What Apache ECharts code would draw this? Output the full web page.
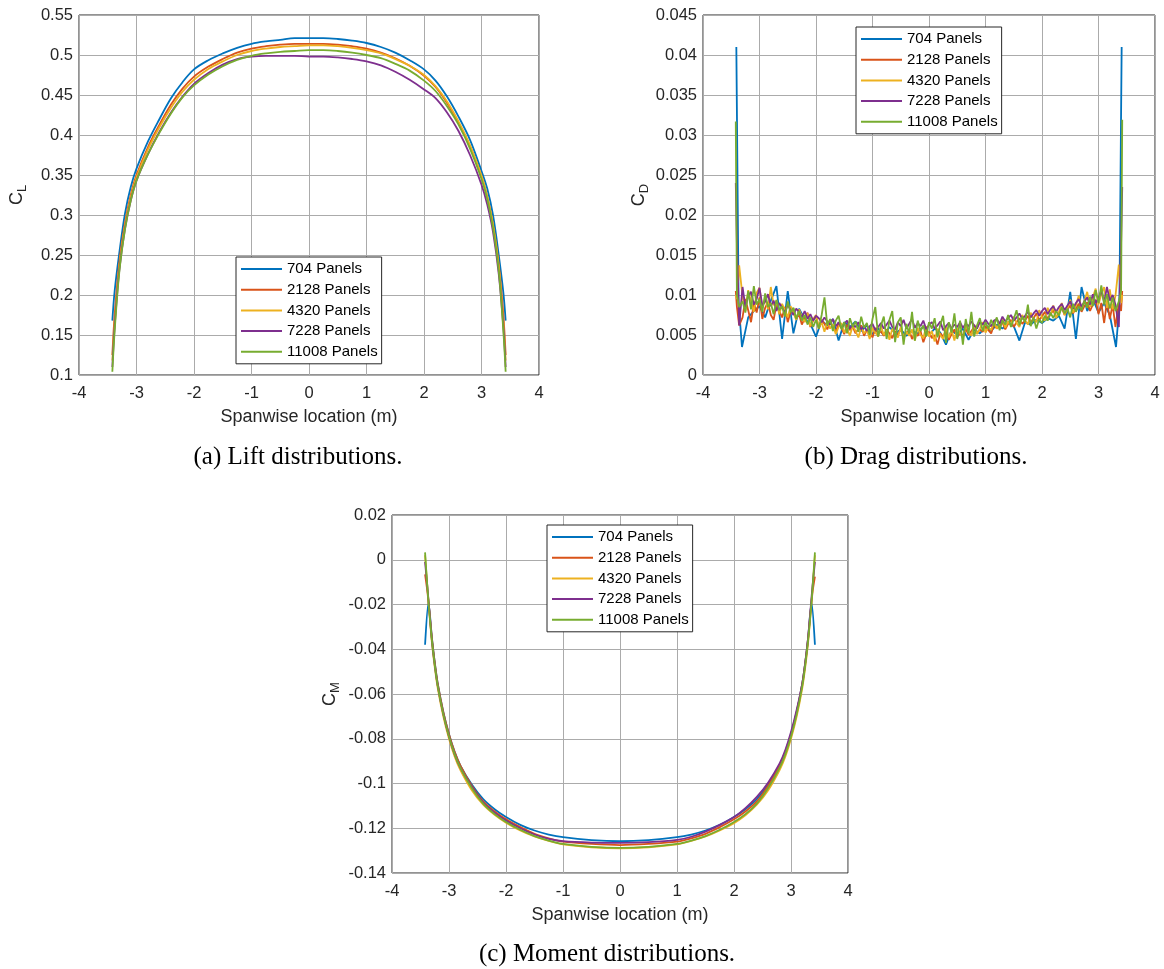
<!DOCTYPE html>
<html><head><meta charset="utf-8">
<script src="https://cdn.jsdelivr.net/npm/echarts@6/dist/echarts.min.js"></script>
<style>html,body{margin:0;padding:0;background:#fff}#c{width:1164px;height:969px}</style>
</head><body><div id="c"></div>
<script>
// ---------- series names / colours ----------
const seriesNames = ['704 Panels', '2128 Panels', '4320 Panels', '7228 Panels', '11008 Panels'];
const seriesColors = ['#0072BD', '#D95319', '#EDB120', '#7E2F8E', '#77AC30'];

// ---------- tick labels ----------
const xTicks = [-4, -3, -2, -1, 0, 1, 2, 3, 4];
const liftTicks = [0.1, 0.15, 0.2, 0.25, 0.3, 0.35, 0.4, 0.45, 0.5, 0.55];
const dragTicks = [0, 0.005, 0.01, 0.015, 0.02, 0.025, 0.03, 0.035, 0.04, 0.045];
const momentTicks = [-0.14, -0.12, -0.1, -0.08, -0.06, -0.04, -0.02, 0, 0.02];

// ---------- texts ----------
const xAxisTitle = 'Spanwise location (m)';
const yAxisSub = ['L', 'D', 'M'];
const captions = ['(a) Lift distributions.', '(b) Drag distributions.', '(c) Moment distributions.'];

// ---------- (a) lift ----------
const liftX = [-3.42, -3.38, -3.3, -3.2, -3.1, -3.0, -2.8, -2.6, -2.4, -2.2, -2.0, -1.75, -1.5, -1.25, -1.0, -0.75, -0.5, -0.25, 0,
  0.25, 0.5, 0.75, 1.0, 1.25, 1.5, 1.75, 2.0, 2.2, 2.4, 2.6, 2.8, 3.0, 3.1, 3.2, 3.3, 3.38, 3.42];
const lift704 = [0.168, 0.205, 0.252, 0.302, 0.335, 0.358, 0.392, 0.420, 0.446, 0.466, 0.482, 0.4935, 0.502, 0.509, 0.514, 0.517, 0.519, 0.521, 0.521,
  0.521, 0.520, 0.518, 0.515, 0.510, 0.503, 0.4935, 0.482, 0.468, 0.448, 0.423, 0.394, 0.355, 0.333, 0.300, 0.250, 0.203, 0.168];
const lift2128 = [0.125, 0.175, 0.240, 0.290, 0.325, 0.350, 0.385, 0.413, 0.438, 0.458, 0.473, 0.4855, 0.495, 0.503, 0.508, 0.511, 0.513, 0.514, 0.514,
  0.514, 0.513, 0.511, 0.508, 0.503, 0.496, 0.4865, 0.474, 0.460, 0.440, 0.415, 0.386, 0.348, 0.323, 0.288, 0.238, 0.175, 0.125];
const lift4320 = [0.118, 0.165, 0.235, 0.287, 0.322, 0.347, 0.382, 0.410, 0.434, 0.454, 0.469, 0.4825, 0.492, 0.500, 0.505, 0.508, 0.510, 0.511, 0.512,
  0.512, 0.511, 0.509, 0.506, 0.502, 0.495, 0.4865, 0.475, 0.461, 0.442, 0.417, 0.387, 0.349, 0.323, 0.288, 0.236, 0.166, 0.118];
const lift7228 = [0.110, 0.160, 0.230, 0.283, 0.318, 0.343, 0.376, 0.404, 0.428, 0.448, 0.464, 0.4775, 0.488, 0.495, 0.498, 0.499, 0.499, 0.499, 0.498,
  0.498, 0.497, 0.495, 0.492, 0.487, 0.479, 0.469, 0.457, 0.446, 0.428, 0.405, 0.375, 0.338, 0.313, 0.279, 0.226, 0.160, 0.110];
const lift11008 = [0.104, 0.155, 0.228, 0.282, 0.318, 0.343, 0.376, 0.403, 0.427, 0.447, 0.462, 0.4755, 0.486, 0.494, 0.499, 0.502, 0.504, 0.505, 0.506,
  0.506, 0.505, 0.503, 0.500, 0.496, 0.489, 0.4805, 0.468, 0.455, 0.436, 0.413, 0.383, 0.345, 0.320, 0.284, 0.230, 0.155, 0.104];

// ---------- (b) drag ----------
const dragX704 = [-3.41, -3.37, -3.31,
  -3.2, -3.1, -3.0, -2.9, -2.8, -2.7, -2.6, -2.5, -2.4, -2.3,
  -2.2, -2.1, -2.0, -1.9, -1.8, -1.7, -1.6, -1.5, -1.4, -1.3,
  -1.2, -1.1, -1.0, -0.9, -0.8, -0.7, -0.6, -0.5, -0.4, -0.3,
  -0.2, -0.1, 0, 0.1, 0.2, 0.3, 0.4, 0.5, 0.6, 0.7,
  0.8, 0.9, 1.0, 1.1, 1.2, 1.3, 1.4, 1.5, 1.6, 1.7,
  1.8, 1.9, 2.0, 2.1, 2.2, 2.3, 2.4, 2.5, 2.6, 2.7,
  2.8, 2.9, 3.0, 3.1, 3.2,
  3.31, 3.37, 3.41];
const drag704 = [0.0410, 0.0090, 0.0035,
  0.0072, 0.0080, 0.0086, 0.0072, 0.0093, 0.0111, 0.0045, 0.0105, 0.0052, 0.0083,
  0.0070, 0.0064, 0.0048, 0.0068, 0.0062, 0.0070, 0.0043, 0.0066, 0.0060, 0.0067,
  0.0055, 0.0062, 0.0051, 0.0058, 0.0050, 0.0060, 0.0052, 0.0057, 0.0049, 0.0055,
  0.0052, 0.0061, 0.0050, 0.0058, 0.0053, 0.0038, 0.0056, 0.0050, 0.0058, 0.0044,
  0.0057, 0.0052, 0.0060, 0.0055, 0.0063, 0.0058, 0.0065, 0.0061, 0.0043, 0.0066,
  0.0063, 0.0069, 0.0065, 0.0071, 0.0068, 0.0074, 0.0058, 0.0104, 0.0045, 0.0110,
  0.0080, 0.0095, 0.0078, 0.0090, 0.0075,
  0.0035, 0.0088, 0.0410];
const dragXFine = [-3.42, -3.40, -3.36,
  -3.3, -3.25, -3.2, -3.15, -3.1, -3.05, -3.0, -2.95, -2.9, -2.85,
  -2.8, -2.75, -2.7, -2.65, -2.6, -2.55, -2.5, -2.45, -2.4, -2.35,
  -2.3, -2.25, -2.2, -2.15, -2.1, -2.05, -2.0, -1.95, -1.9, -1.85,
  -1.8, -1.75, -1.7, -1.65, -1.6, -1.55, -1.5, -1.45, -1.4, -1.35,
  -1.3, -1.25, -1.2, -1.15, -1.1, -1.05, -1.0, -0.95, -0.9, -0.85,
  -0.8, -0.75, -0.7, -0.65, -0.6, -0.55, -0.5, -0.45, -0.4, -0.35,
  -0.3, -0.25, -0.2, -0.15, -0.1, -0.05, 0, 0.05, 0.1, 0.15,
  0.2, 0.25, 0.3, 0.35, 0.4, 0.45, 0.5, 0.55, 0.6, 0.65,
  0.7, 0.75, 0.8, 0.85, 0.9, 0.95, 1.0, 1.05, 1.1, 1.15,
  1.2, 1.25, 1.3, 1.35, 1.4, 1.45, 1.5, 1.55, 1.6, 1.65,
  1.7, 1.75, 1.8, 1.85, 1.9, 1.95, 2.0, 2.05, 2.1, 2.15,
  2.2, 2.25, 2.3, 2.35, 2.4, 2.45, 2.5, 2.55, 2.6, 2.65,
  2.7, 2.75, 2.8, 2.85, 2.9, 2.95, 3.0, 3.05, 3.1, 3.15,
  3.2, 3.25, 3.3,
  3.36, 3.40, 3.42];
const drag2128 = [0.0105, 0.0085, 0.0062,
  0.0072, 0.0095, 0.0081, 0.0066, 0.0090, 0.0078, 0.0097, 0.0070, 0.0084, 0.0091,
  0.0075, 0.0069, 0.0088, 0.0080, 0.0072, 0.0085, 0.0066, 0.0079, 0.0083, 0.0070,
  0.0076, 0.0063, 0.0071, 0.0078, 0.0060, 0.0068, 0.0074, 0.0058, 0.0069, 0.0064,
  0.0057, 0.0067, 0.0061, 0.0054, 0.0065, 0.0059, 0.0051, 0.0063, 0.0056, 0.0060,
  0.0052, 0.0058, 0.0062, 0.0049, 0.0056, 0.0053, 0.0047, 0.0059, 0.0051, 0.0055,
  0.0049, 0.0057, 0.0052, 0.0046, 0.0055, 0.0050, 0.0058, 0.0047, 0.0053, 0.0056,
  0.0045, 0.0052, 0.0049, 0.0055, 0.0041, 0.0051, 0.0054, 0.0046, 0.0050, 0.0038,
  0.0052, 0.0048, 0.0055, 0.0044, 0.0051, 0.0057, 0.0047, 0.0053, 0.0049, 0.0058,
  0.0050, 0.0055, 0.0060, 0.0052, 0.0057, 0.0054, 0.0061, 0.0056, 0.0052, 0.0063,
  0.0058, 0.0061, 0.0066, 0.0057, 0.0064, 0.0069, 0.0060, 0.0066, 0.0071, 0.0064,
  0.0068, 0.0074, 0.0065, 0.0071, 0.0077, 0.0069, 0.0073, 0.0079, 0.0070, 0.0076,
  0.0081, 0.0072, 0.0078, 0.0084, 0.0075, 0.0082, 0.0087, 0.0077, 0.0083, 0.0089,
  0.0079, 0.0086, 0.0091, 0.0080, 0.0088, 0.0094, 0.0076, 0.0090, 0.0065, 0.0092,
  0.0070, 0.0088, 0.0060,
  0.0090, 0.0080, 0.0105];
const drag4320 = [0.0100, 0.0095, 0.0137,
  0.0098, 0.0080, 0.0106, 0.0092, 0.0079, 0.0103, 0.0109, 0.0084, 0.0096, 0.0082,
  0.0110, 0.0087, 0.0093, 0.0076, 0.0089, 0.0081, 0.0072, 0.0086, 0.0078, 0.0069,
  0.0082, 0.0073, 0.0066, 0.0077, 0.0061, 0.0070, 0.0075, 0.0059, 0.0066, 0.0054,
  0.0068, 0.0058, 0.0063, 0.0051, 0.0060, 0.0065, 0.0053, 0.0058, 0.0049, 0.0062,
  0.0055, 0.0047, 0.0060, 0.0052, 0.0057, 0.0045, 0.0059, 0.0053, 0.0048, 0.0061,
  0.0050, 0.0056, 0.0044, 0.0058, 0.0051, 0.0047, 0.0060, 0.0045, 0.0054, 0.0049,
  0.0057, 0.0043, 0.0059, 0.0050, 0.0046, 0.0061, 0.0048, 0.0055, 0.0042, 0.0058,
  0.0050, 0.0045, 0.0060, 0.0047, 0.0056, 0.0043, 0.0059, 0.0052, 0.0046, 0.0062,
  0.0054, 0.0049, 0.0063, 0.0051, 0.0058, 0.0066, 0.0053, 0.0060, 0.0056, 0.0068,
  0.0058, 0.0064, 0.0070, 0.0059, 0.0067, 0.0062, 0.0073, 0.0065, 0.0060, 0.0075,
  0.0068, 0.0063, 0.0078, 0.0070, 0.0066, 0.0081, 0.0072, 0.0068, 0.0084, 0.0074,
  0.0087, 0.0071, 0.0079, 0.0090, 0.0075, 0.0083, 0.0094, 0.0078, 0.0087, 0.0099,
  0.0082, 0.0092, 0.0104, 0.0085, 0.0097, 0.0108, 0.0088, 0.0101, 0.0110, 0.0084,
  0.0107, 0.0082, 0.0099,
  0.0138, 0.0090, 0.0100];
const drag7228 = [0.0240, 0.0165, 0.0062,
  0.0110, 0.0085, 0.0098, 0.0104, 0.0088, 0.0095, 0.0109, 0.0087, 0.0092, 0.0101,
  0.0086, 0.0093, 0.0080, 0.0090, 0.0084, 0.0078, 0.0088, 0.0081, 0.0075, 0.0083,
  0.0079, 0.0072, 0.0080, 0.0070, 0.0076, 0.0068, 0.0074, 0.0071, 0.0066, 0.0072,
  0.0067, 0.0063, 0.0070, 0.0061, 0.0066, 0.0059, 0.0064, 0.0068, 0.0058, 0.0063,
  0.0060, 0.0066, 0.0057, 0.0062, 0.0055, 0.0061, 0.0064, 0.0056, 0.0060, 0.0065,
  0.0058, 0.0063, 0.0068, 0.0060, 0.0057, 0.0066, 0.0061, 0.0069, 0.0058, 0.0064,
  0.0070, 0.0059, 0.0065, 0.0061, 0.0068, 0.0057, 0.0063, 0.0066, 0.0058, 0.0062,
  0.0067, 0.0056, 0.0061, 0.0065, 0.0058, 0.0063, 0.0060, 0.0066, 0.0059, 0.0064,
  0.0061, 0.0067, 0.0062, 0.0058, 0.0066, 0.0063, 0.0069, 0.0064, 0.0061, 0.0068,
  0.0070, 0.0064, 0.0073, 0.0067, 0.0071, 0.0075, 0.0068, 0.0072, 0.0077, 0.0070,
  0.0074, 0.0079, 0.0072, 0.0077, 0.0081, 0.0074, 0.0080, 0.0084, 0.0076, 0.0082,
  0.0086, 0.0079, 0.0085, 0.0089, 0.0081, 0.0087, 0.0092, 0.0083, 0.0090, 0.0095,
  0.0085, 0.0092, 0.0097, 0.0088, 0.0101, 0.0090, 0.0096, 0.0106, 0.0091, 0.0110,
  0.0093, 0.0100, 0.0088,
  0.0060, 0.0165, 0.0235];
const drag11008 = [0.0317, 0.0100, 0.0085,
  0.0092, 0.0078, 0.0105, 0.0082, 0.0111, 0.0088, 0.0095, 0.0079, 0.0102, 0.0085,
  0.0090, 0.0076, 0.0094, 0.0081, 0.0086, 0.0073, 0.0092, 0.0078, 0.0084, 0.0070,
  0.0080, 0.0068, 0.0075, 0.0063, 0.0072, 0.0060, 0.0069, 0.0058, 0.0075, 0.0097,
  0.0062, 0.0070, 0.0055, 0.0068, 0.0074, 0.0057, 0.0066, 0.0052, 0.0071, 0.0060,
  0.0067, 0.0054, 0.0073, 0.0059, 0.0065, 0.0050, 0.0070, 0.0085, 0.0048, 0.0062,
  0.0073, 0.0045, 0.0069, 0.0080, 0.0041, 0.0066, 0.0072, 0.0038, 0.0064, 0.0052,
  0.0079, 0.0043, 0.0068, 0.0055, 0.0062, 0.0048, 0.0066, 0.0058, 0.0071, 0.0047,
  0.0063, 0.0074, 0.0040, 0.0066, 0.0053, 0.0077, 0.0045, 0.0068, 0.0038, 0.0070,
  0.0052, 0.0079, 0.0048, 0.0062, 0.0071, 0.0055, 0.0066, 0.0058, 0.0069, 0.0061,
  0.0072, 0.0056, 0.0068, 0.0063, 0.0075, 0.0060, 0.0070, 0.0081, 0.0062, 0.0073,
  0.0066, 0.0088, 0.0061, 0.0072, 0.0058, 0.0070, 0.0065, 0.0074, 0.0068, 0.0078,
  0.0071, 0.0080, 0.0074, 0.0085, 0.0077, 0.0083, 0.0072, 0.0089, 0.0079, 0.0086,
  0.0081, 0.0093, 0.0084, 0.0098, 0.0086, 0.0106, 0.0090, 0.0112, 0.0088, 0.0101,
  0.0083, 0.0097, 0.0080,
  0.0092, 0.0105, 0.0319];

// ---------- (c) moment ----------
const momentX704 = [-3.42, -3.36, -3.3, -3.25, -3.2, -3.1, -3.0, -2.9, -2.8, -2.6, -2.4, -2.2, -2.0, -1.75, -1.5, -1.25, -1.0, -0.5, 0,
  0.5, 1.0, 1.25, 1.5, 1.75, 2.0, 2.2, 2.4, 2.6, 2.8, 2.9, 3.0, 3.1, 3.2, 3.25, 3.3, 3.36, 3.42];
const moment704 = [-0.038, -0.019, -0.035, -0.046, -0.055, -0.068, -0.078, -0.086, -0.092, -0.1005, -0.107, -0.1115, -0.115, -0.1185, -0.121, -0.1228, -0.124, -0.1253, -0.1258,
  -0.1253, -0.124, -0.1228, -0.121, -0.1185, -0.115, -0.1115, -0.107, -0.1005, -0.092, -0.086, -0.078, -0.068, -0.055, -0.046, -0.035, -0.019, -0.038];
const momentXFine = [-3.42, -3.38, -3.34, -3.3, -3.25, -3.2, -3.1, -3.0, -2.9, -2.8, -2.6, -2.4, -2.2, -2.0, -1.75, -1.5, -1.25, -1.0, -0.5, 0,
  0.5, 1.0, 1.25, 1.5, 1.75, 2.0, 2.2, 2.4, 2.6, 2.8, 2.9, 3.0, 3.1, 3.2, 3.25, 3.3, 3.34, 3.38, 3.42];
const moment2128 = [-0.0065, -0.014, -0.024, -0.035, -0.046, -0.055, -0.068, -0.078, -0.086, -0.092, -0.101, -0.108, -0.1125, -0.116, -0.1195, -0.1225, -0.1245, -0.126, -0.127, -0.1275,
  -0.127, -0.126, -0.1245, -0.1225, -0.1195, -0.116, -0.1125, -0.108, -0.101, -0.092, -0.086, -0.078, -0.068, -0.055, -0.046, -0.035, -0.024, -0.014, -0.0075];
const moment4320 = [0.002, -0.012, -0.025, -0.037, -0.048, -0.057, -0.070, -0.080, -0.088, -0.094, -0.103, -0.1095, -0.114, -0.1175, -0.121, -0.1237, -0.1257, -0.1272, -0.1285, -0.129,
  -0.1285, -0.1272, -0.1257, -0.1237, -0.121, -0.1177, -0.1142, -0.1095, -0.103, -0.094, -0.088, -0.080, -0.070, -0.057, -0.048, -0.037, -0.025, -0.012, 0.002];
const moment7228 = [-0.001, -0.012, -0.024, -0.036, -0.047, -0.056, -0.069, -0.079, -0.087, -0.093, -0.1015, -0.1085, -0.113, -0.1165, -0.12, -0.1228, -0.1248, -0.1258, -0.1264, -0.1265,
  -0.1262, -0.1252, -0.1238, -0.1215, -0.1185, -0.115, -0.111, -0.106, -0.0995, -0.091, -0.085, -0.077, -0.067, -0.055, -0.046, -0.035, -0.023, -0.011, -0.001];
const moment11008 = [0.0033, -0.012, -0.025, -0.036, -0.047, -0.056, -0.069, -0.079, -0.087, -0.093, -0.102, -0.109, -0.1137, -0.1172, -0.1207, -0.1235, -0.1255, -0.127, -0.1283, -0.1288,
  -0.1283, -0.127, -0.1255, -0.1235, -0.1207, -0.1172, -0.1137, -0.109, -0.102, -0.093, -0.087, -0.079, -0.069, -0.056, -0.047, -0.036, -0.025, -0.012, 0.0033];

// ---------- build ----------
function zip(xs, ys) { const n = Math.min(xs.length, ys.length); const out = []; for (let i = 0; i < n; i++) out.push([xs[i], ys[i]]); return out; }

const panels = [
  { x: [liftX, liftX, liftX, liftX, liftX], y: [lift704, lift2128, lift4320, lift7228, lift11008], ticks: liftTicks, smooth: 0.35 },
  { x: [dragX704, dragXFine, dragXFine, dragXFine, dragXFine], y: [drag704, drag2128, drag4320, drag7228, drag11008], ticks: dragTicks, smooth: false },
  { x: [momentX704, momentXFine, momentXFine, momentXFine, momentXFine], y: [moment704, moment2128, moment4320, moment7228, moment11008], ticks: momentTicks, smooth: 0.25 }
];

const grids = [
  { left: 79, top: 15, width: 460, height: 360 },
  { left: 703, top: 15, width: 452, height: 360 },
  { left: 392, top: 515, width: 456, height: 358 }
];
const legendPos = [[236, 257], [856, 27], [547, 525]];
const captionPos = [[298, 457], [916, 457], [607, 954]];
const yNameGap = [50, 52, 50];

const FONT = '"Liberation Sans", Arial, Helvetica, sans-serif';
const AXC = '#262626';
const GRIDC = '#ababab';

const option = {
  animation: false,
  backgroundColor: '#fff',
  grid: grids.map(g => Object.assign({ show: true, borderColor: AXC, borderWidth: 1, backgroundColor: '#fff', containLabel: false }, g)),
  xAxis: grids.map((g, i) => ({
    gridIndex: i, type: 'value', min: xTicks[0], max: xTicks[xTicks.length - 1], interval: xTicks[1] - xTicks[0],
    axisLine: { show: false }, axisTick: { show: false },
    splitLine: { show: true, lineStyle: { color: GRIDC, width: 1 } },
    axisLabel: { fontFamily: FONT, fontSize: 16.5, color: AXC, margin: 10 },
    name: xAxisTitle, nameLocation: 'middle', nameGap: 33,
    nameTextStyle: { fontFamily: FONT, fontSize: 18, color: AXC }
  })),
  yAxis: panels.map((p, i) => ({
    gridIndex: i, type: 'value', min: p.ticks[0], max: p.ticks[p.ticks.length - 1],
    interval: +(p.ticks[1] - p.ticks[0]).toFixed(6),
    axisLine: { show: false }, axisTick: { show: false },
    splitLine: { show: true, lineStyle: { color: GRIDC, width: 1 } },
    axisLabel: { fontFamily: FONT, fontSize: 16.5, color: AXC, margin: 6 },
    name: '{m|C}{s|' + yAxisSub[i] + '}', nameLocation: 'middle', nameGap: yNameGap[i],
    nameTextStyle: {
      fontFamily: FONT, color: AXC,
      rich: {
        m: { fontFamily: FONT, fontSize: 18, color: AXC },
        s: { fontFamily: FONT, fontSize: 13, color: AXC, padding: [11, 0, 0, 0] }
      }
    }
  })),
  legend: legendPos.map(pos => ({
    orient: 'vertical', left: pos[0], top: pos[1], data: seriesNames,
    icon: 'rect', itemWidth: 41, itemHeight: 2, itemGap: 0.7,
    padding: [2, 4, 2, 5], borderColor: AXC, borderWidth: 1, backgroundColor: '#fff',
    selectedMode: false,
    textStyle: { fontFamily: FONT, fontSize: 15, color: '#000', lineHeight: 20 }
  })),
  graphic: captions.map((t, i) => ({
    type: 'text', x: captionPos[i][0], y: captionPos[i][1],
    style: { text: t, fontFamily: '"Liberation Serif", "Times New Roman", serif', fontSize: 25, fill: '#000', align: 'center', verticalAlign: 'middle' }
  })),
  series: []
};

panels.forEach((p, pi) => {
  for (let k = 0; k < seriesNames.length; k++) {
    option.series.push({
      type: 'line', name: seriesNames[k], xAxisIndex: pi, yAxisIndex: pi,
      data: zip(p.x[k], p.y[k]), showSymbol: false, symbol: 'none', smooth: p.smooth,
      clip: true,
      color: seriesColors[k],
      lineStyle: { width: 1.8, color: seriesColors[k] },
      emphasis: { disabled: true }
    });
  }
});

const chart = echarts.init(document.getElementById('c'), null, { renderer: 'canvas' });
chart.setOption(option);
</script>
</body></html>
